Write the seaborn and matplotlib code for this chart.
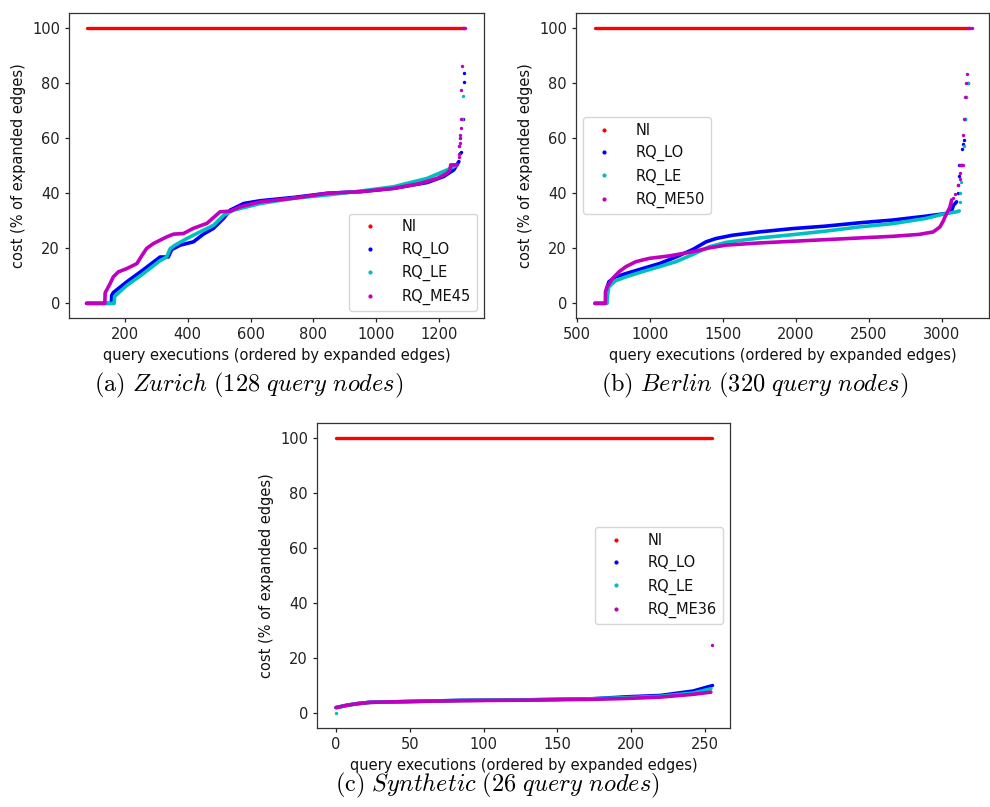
import matplotlib
matplotlib.use("Agg")
import matplotlib.pyplot as plt
from matplotlib.lines import Line2D
import seaborn as sns

# ---------------- Zurich (128 query nodes) ----------------
zur_ni_x = [78, 1280]
zur_ni_y = [100, 100]

zur_lo_x = [78, 157, 158, 163, 206, 259, 312, 338, 349, 376, 418, 450, 482, 514,
            535, 578, 631, 737, 844, 950, 1056, 1162, 1215, 1247, 1263]
zur_lo_y = [0, 0, 2.9, 3.9, 7.8, 12.2, 16.8, 16.8, 19.5, 21.1, 22.3, 25.1, 27.2, 30.8,
            33.8, 36.2, 37.2, 38.4, 39.9, 40.5, 41.7, 43.8, 46.0, 48.4, 51.4]
zur_lo_tail_x = [1268, 1271, 1275, 1278, 1278]
zur_lo_tail_y = [54.4, 55.0, 66.9, 80.1, 83.5]

zur_le_x = [78, 166, 167, 206, 259, 312, 333, 344, 360, 397, 439, 482, 514, 546,
            589, 631, 737, 844, 950, 1056, 1162, 1226, 1255]
zur_le_y = [0, 0, 2.5, 6.5, 10.8, 15.5, 16.8, 19.8, 21.1, 23.5, 25.9, 28.3, 31.9, 33.8,
            35.0, 36.2, 38.1, 39.3, 40.7, 42.3, 45.3, 48.4, 50.0]
zur_le_tail_x = [1262, 1265, 1272, 1276]
zur_le_tail_y = [56.9, 59.9, 66.9, 75.0]

zur_me_x = [78, 136, 137, 153, 163, 179, 206, 238, 255, 269, 291, 333, 355, 386, 418,
            461, 503, 535, 567, 631, 737, 844, 950, 1056, 1141, 1194, 1226, 1235, 1237, 1258]
zur_me_y = [0, 0, 3.8, 7.2, 9.6, 11.4, 12.6, 14.4, 17.5, 19.9, 21.7, 24.1, 25.1, 25.3, 27.2,
            29.0, 33.2, 33.4, 35.0, 36.8, 38.1, 39.9, 40.5, 41.7, 43.5, 45.3, 47.2, 48.5, 50.2, 50.2]
zur_me_tail_x = [1262, 1263, 1264, 1266, 1267, 1268, 1269, 1270, 1271, 1272, 1276, 1280, 1283]
zur_me_tail_y = [53.0, 54.2, 56.9, 58.3, 59.9, 61.1, 63.5, 66.9, 77.2, 85.9, 100, 100, 100]

# ---------------- Berlin (320 query nodes) ----------------
ber_ni_x = [623, 3185]
ber_ni_y = [100, 100]

ber_lo_x = [623, 700, 701, 718, 764, 835, 949, 1064, 1178, 1292, 1384, 1452, 1566,
            1749, 1977, 2205, 2433, 2662, 2890, 3032, 3066, 3078, 3100]
ber_lo_y = [0, 0, 4.8, 7.8, 9.6, 10.8, 12.6, 14.4, 16.8, 19.5, 22.3, 23.5, 24.7,
            25.9, 27.1, 28.0, 29.2, 30.2, 31.6, 32.6, 33.5, 35.5, 36.8]
ber_lo_tail_x = [3107, 3112, 3115, 3118, 3130, 3140, 3145, 3150, 3155, 3165, 3175]
ber_lo_tail_y = [40.0, 43.0, 46.0, 50.0, 50.0, 56.0, 57.8, 59.3, 66.8, 74.9, 79.9]

ber_le_x = [623, 706, 707, 718, 764, 835, 949, 1064, 1178, 1292, 1406, 1520, 1749,
            1977, 2205, 2433, 2662, 2890, 3004, 3100, 3118]
ber_le_y = [0, 0, 2.1, 6.0, 8.2, 9.6, 11.5, 13.3, 15.1, 17.7, 20.5, 22.1, 23.7,
            24.9, 26.2, 27.7, 28.9, 30.8, 32.3, 33.2, 33.5]
ber_le_tail_x = [3123, 3125, 3128, 3130, 3150, 3155, 3165, 3180]
ber_le_tail_y = [36.8, 40.0, 44.0, 50.0, 57.0, 66.8, 74.9, 80.0]

ber_me_x = [623, 694, 695, 707, 743, 789, 835, 903, 995, 1132, 1292, 1406, 1520, 1749,
            1977, 2205, 2433, 2662, 2844, 2940, 2986, 3010, 3021, 3044, 3055, 3066]
ber_me_y = [0, 0, 4.2, 6.0, 9.0, 11.5, 13.3, 15.1, 16.3, 17.2, 18.7, 20.1, 21.1, 21.9,
            22.5, 23.1, 23.7, 24.3, 25.0, 25.9, 27.7, 30.0, 31.4, 33.8, 35.0, 37.5]
ber_me_tail_x = [3078, 3089, 3112, 3120, 3123, 3125, 3135, 3146, 3146, 3150, 3160,
                 3165, 3169, 3185, 3195, 3204]
ber_me_tail_y = [38.2, 39.5, 43.0, 45.0, 47.1, 50.1, 50.1, 50.1, 61.0, 66.8, 74.9,
                 79.9, 83.3, 100, 100, 100]

# ---------------- Synthetic (26 query nodes) ----------------
syn_ni_x = [0, 255]
syn_ni_y = [100, 100]

syn_lo_x = [0, 7, 14, 23, 50, 84, 129, 174, 197, 220, 242, 254]
syn_lo_y = [2.1, 2.9, 3.5, 4.0, 4.3, 4.7, 4.9, 5.3, 6.0, 6.5, 8.1, 9.9]
syn_lo_tail_x = [255]
syn_lo_tail_y = [10.2]

syn_le_x = [1, 7, 14, 23, 50, 84, 129, 174, 197, 220, 242, 254]
syn_le_y = [2.1, 2.9, 3.5, 4.0, 4.3, 4.7, 4.9, 5.3, 5.7, 6.2, 7.4, 8.9]
syn_le_tail_x = [0]
syn_le_tail_y = [0]

syn_me_x = [0, 7, 14, 23, 50, 84, 129, 174, 197, 220, 242, 254]
syn_me_y = [2.1, 2.9, 3.5, 4.0, 4.3, 4.6, 4.8, 5.1, 5.4, 5.9, 6.9, 7.7]
syn_me_tail_x = [255]
syn_me_tail_y = [24.9]

COL_NI, COL_LO, COL_LE, COL_ME = "#ff0000", "#0000ff", "#00bfbf", "#bf00bf"
YTICKS = [0, 20, 40, 60, 80, 100]

sns.set_style("ticks")
plt.rcParams.update({
    "font.family": ["DejaVu Sans"],
    "font.size": 10.5,
    "mathtext.fontset": "cm",
    "axes.edgecolor": "#333333",
    "axes.linewidth": 0.9,
    "xtick.major.size": 3,
    "ytick.major.size": 3,
    "xtick.major.width": 0.9,
    "ytick.major.width": 0.9,
    "xtick.color": "#222222",
    "ytick.color": "#222222",
    "text.color": "#111111",
    "axes.labelcolor": "#111111",
})

fig = plt.figure(figsize=(9.9, 8.07), dpi=100)
ax_a = fig.add_axes([0.0697, 0.606, 0.4192, 0.378])
ax_b = fig.add_axes([0.5818, 0.606, 0.4172, 0.378])
ax_c = fig.add_axes([0.3202, 0.0979, 0.4172, 0.378])


def draw_panel(ax, ni, series, me_label, xlim, xticks, loc):
    sns.lineplot(x=ni[0], y=ni[1], ax=ax, color=COL_NI, linewidth=2.4,
                 sort=False, estimator=None, legend=False)
    for bx, by, tx, ty, col in series:
        sns.lineplot(x=bx, y=by, ax=ax, color=col, linewidth=2.6,
                     sort=False, estimator=None, legend=False)
        sns.scatterplot(x=tx, y=ty, ax=ax, color=col, s=6, linewidth=0,
                        legend=False, zorder=3)
    ax.set_xlim(*xlim)
    ax.set_ylim(-5.3, 105.3)
    ax.set_xticks(xticks)
    ax.set_yticks(YTICKS)
    ax.set_xlabel("query executions (ordered by expanded edges)")
    ax.set_ylabel("cost (% of expanded edges)")
    handles = [Line2D([], [], color=c, marker=".", linestyle="", markersize=4)
               for c in (COL_NI, COL_LO, COL_LE, COL_ME)]
    ax.legend(handles, ["NI", "RQ_LO", "RQ_LE", me_label], loc=loc,
              fontsize=10.5, handletextpad=1.2, framealpha=0.8,
              edgecolor="#cccccc", fancybox=True)


draw_panel(ax_a, (zur_ni_x, zur_ni_y),
           [(zur_lo_x, zur_lo_y, zur_lo_tail_x, zur_lo_tail_y, COL_LO),
            (zur_le_x, zur_le_y, zur_le_tail_x, zur_le_tail_y, COL_LE),
            (zur_me_x, zur_me_y, zur_me_tail_x, zur_me_tail_y, COL_ME)],
           "RQ_ME45", (22, 1343), [200, 400, 600, 800, 1000, 1200], "lower right")

draw_panel(ax_b, (ber_ni_x, ber_ni_y),
           [(ber_lo_x, ber_lo_y, ber_lo_tail_x, ber_lo_tail_y, COL_LO),
            (ber_le_x, ber_le_y, ber_le_tail_x, ber_le_tail_y, COL_LE),
            (ber_me_x, ber_me_y, ber_me_tail_x, ber_me_tail_y, COL_ME)],
           "RQ_ME50", (493, 3322), [500, 1000, 1500, 2000, 2500, 3000], "center left")

draw_panel(ax_c, (syn_ni_x, syn_ni_y),
           [(syn_lo_x, syn_lo_y, syn_lo_tail_x, syn_lo_tail_y, COL_LO),
            (syn_le_x, syn_le_y, syn_le_tail_x, syn_le_tail_y, COL_LE),
            (syn_me_x, syn_me_y, syn_me_tail_x, syn_me_tail_y, COL_ME)],
           "RQ_ME36", (-12.9, 267), [0, 50, 100, 150, 200, 250], "center right")

cap_kw = dict(ha="center", va="center", fontsize=17.5, color="black")
fig.text(0.2515, 0.522, r"$\mathrm{(a)}\ \mathit{Zurich\ (128\ query\ nodes)}$", **cap_kw)
fig.text(0.7626, 0.522, r"$\mathrm{(b)}\ \mathit{Berlin\ (320\ query\ nodes)}$", **cap_kw)
fig.text(0.502, 0.0265, r"$\mathrm{(c)}\ \mathit{Synthetic\ (26\ query\ nodes)}$", **cap_kw)

fig.savefig("out.png", dpi=100)
